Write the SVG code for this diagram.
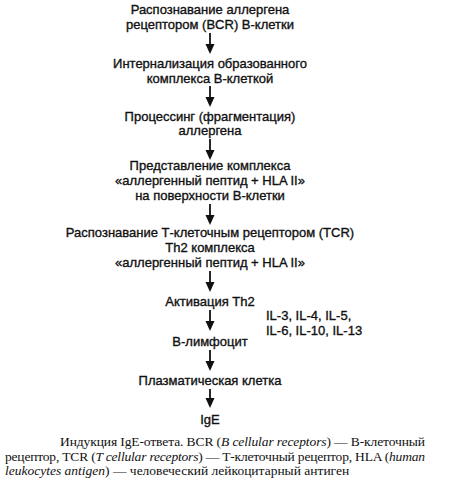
<svg xmlns="http://www.w3.org/2000/svg" width="456" height="486" viewBox="0 0 456 486">
<defs>
<style>
.t{font-family:"Liberation Sans",Arial,sans-serif;font-size:13px;fill:#111;stroke:#111;stroke-width:0.35;text-anchor:middle}
.l{font-family:"Liberation Sans",Arial,sans-serif;font-size:13px;fill:#111;stroke:#111;stroke-width:0.35}
.c{font-family:"Liberation Serif","Times New Roman",serif;font-size:13.5px;fill:#111}
.a{stroke:#111;stroke-width:1.8;fill:none}
.h{fill:#111}
</style>
<polygon id="ah" class="h" points="-4.5,-10 4.5,-10 0,0"/>
</defs>
<rect width="456" height="486" fill="#fff"/>
<g id="connectors">
<line class="a" x1="210" y1="33" x2="210" y2="46"/><use href="#ah" x="210" y="54"/>
<line class="a" x1="210" y1="86" x2="210" y2="99"/><use href="#ah" x="210" y="107"/>
<line class="a" x1="210" y1="139" x2="210" y2="152"/><use href="#ah" x="210" y="160"/>
<line class="a" x1="210" y1="204" x2="210" y2="217"/><use href="#ah" x="210" y="225"/>
<line class="a" x1="210" y1="271" x2="210" y2="284"/><use href="#ah" x="210" y="292"/>
<line class="a" x1="210" y1="310" x2="210" y2="323"/><use href="#ah" x="210" y="331"/>
<line class="a" x1="210" y1="350" x2="210" y2="363"/><use href="#ah" x="210" y="371"/>
<line class="a" x1="210" y1="389" x2="210" y2="400"/><use href="#ah" x="210" y="408"/>
</g>
<g id="n1"><text class="t" x="210" y="14">Распознавание аллергена</text><text class="t" x="210" y="29">рецептором (BCR) В-клетки</text></g>
<g id="n2"><text class="t" x="210" y="68">Интернализация образованного</text><text class="t" x="210" y="83">комплекса В-клеткой</text></g>
<g id="n3"><text class="t" x="210" y="121">Процессинг (фрагментация)</text><text class="t" x="210" y="135">аллергена</text></g>
<g id="n4"><text class="t" x="210" y="170">Представление комплекса</text><text class="t" x="210" y="185">«аллергенный пептид + HLA II»</text><text class="t" x="210" y="200">на поверхности В-клетки</text></g>
<g id="n5"><text class="t" x="210" y="237">Распознавание Т-клеточным рецептором (TCR)</text><text class="t" x="210" y="252">Th2 комплекса</text><text class="t" x="210" y="267">«аллергенный пептид + HLA II»</text></g>
<g id="n6"><text class="t" x="210" y="306">Активация Th2</text></g>
<g id="il"><text class="l" x="266" y="320">IL-3, IL-4, IL-5,</text><text class="l" x="266" y="335">IL-6, IL-10, IL-13</text></g>
<g id="n7"><text class="t" x="210" y="346">В-лимфоцит</text></g>
<g id="n8"><text class="t" x="210" y="385">Плазматическая клетка</text></g>
<g id="n9"><text class="t" x="210" y="424">IgE</text></g>
<g id="caption">
<text class="c" x="60" y="446" textLength="365" lengthAdjust="spacing">Индукция IgE-ответа. BCR (<tspan font-style="italic">B cellular receptors</tspan>) — В-клеточный</text>
<text class="c" x="5" y="461" textLength="420" lengthAdjust="spacing">рецептор, TCR (<tspan font-style="italic">T cellular receptors</tspan>) — Т-клеточный рецептор, HLA (<tspan font-style="italic">human</tspan></text>
<text class="c" x="5" y="475"><tspan font-style="italic">leukocytes antigen</tspan>) — человеческий лейкоцитарный антиген</text>
</g>
</svg>
